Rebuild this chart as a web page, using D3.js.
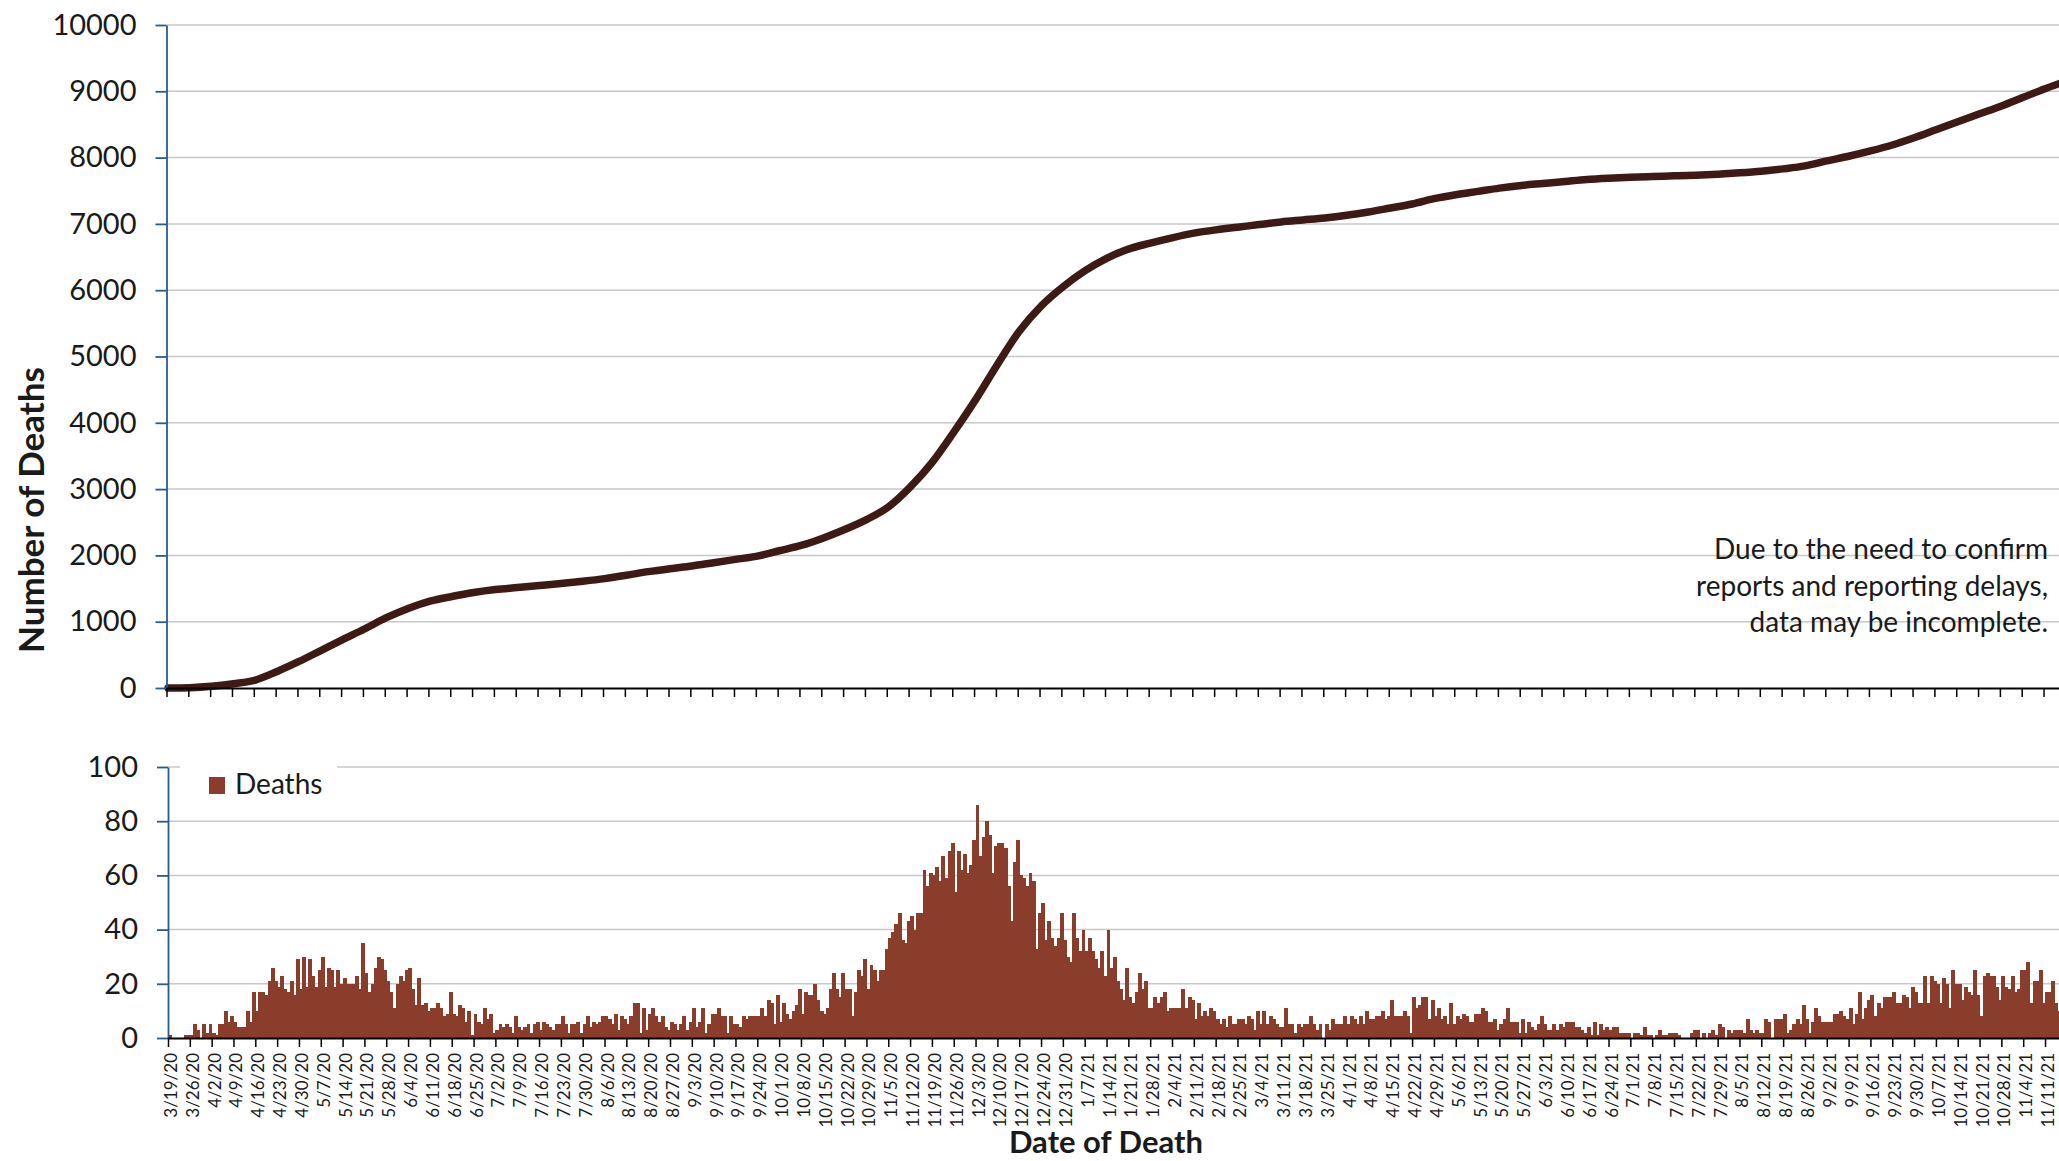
<!DOCTYPE html>
<html>
<head>
<meta charset="utf-8">
<script src="https://cdn.jsdelivr.net/npm/d3@7"></script>
<style>
  body { margin: 0; background: #fff; }
  text { font-family: Lato, "Open Sans", sans-serif; }
</style>
</head>
<body>
<div id="chart"></div>
<script>
// Daily deaths, one value per day starting 3/19/2020
const startDate = new Date(Date.UTC(2020, 2, 19));
const dailyDeaths = [
  1,0,0,0,0,1,1,1,5,3, 0,5,2,5,2,1,5,5,10,6, 8,6,4,4,4,10,6,17,10,17,
  17,16,21,26,21,19,23,18,17,21, 16,29,18,30,19,29,23,19,25,30, 19,26,25,19,25,20,22,20,20,20,
  23,18,35,24,17,20,26,30,29,25, 21,17,11,20,23,21,25,26,18,12, 22,12,13,10,11,11,13,11,8,9,
  17,9,8,12,11,6,10,1,9,6, 5,11,7,9,2,3,5,4,5,4, 2,8,4,3,4,5,2,5,6,3,
  6,5,4,3,5,5,8,5,2,5, 5,6,2,5,8,4,6,5,6,8, 8,7,5,9,3,8,7,5,8,13,
  13,2,11,3,9,11,8,6,8,4, 3,6,5,3,5,8,3,6,11,4, 6,11,2,5,9,9,11,8,8,2,
  8,5,5,4,8,7,8,8,8,8, 11,8,14,13,5,16,6,13,9,7, 10,12,18,9,17,16,16,20,14,10,
  9,11,18,24,18,15,24,18,18,8, 17,25,23,29,18,27,25,21,25,25, 33,37,39,42,46,36,35,43,45,40,
  46,46,62,56,61,60,63,58,67,59, 69,72,54,69,62,68,61,64,73,86, 67,74,80,75,61,71,72,72,70,56,
  43,65,73,60,59,56,61,58,33,46, 50,36,43,37,34,37,46,36,30,28, 46,37,32,40,32,37,32,29,26,32,
  23,40,26,30,21,18,14,26,15,13, 17,24,18,21,11,11,15,13,15,17, 10,11,11,11,11,18,11,15,14,7,
  13,8,10,8,11,10,7,5,7,4, 8,5,5,7,7,5,8,7,3,10, 5,10,5,8,7,5,4,4,11,5,
  5,2,5,4,5,5,8,5,3,5, 0,5,3,7,5,5,5,8,5,8, 7,5,8,5,10,7,7,8,8,10,
  7,8,14,8,8,8,10,8,2,15, 11,12,15,15,7,14,8,11,7,8, 5,13,5,8,7,9,8,6,6,9,
  9,11,10,6,6,7,3,5,7,11, 6,6,6,2,7,2,6,4,3,5, 8,5,3,3,5,3,5,4,6,6,
  6,4,4,3,2,4,1,6,1,5, 3,4,3,4,4,2,2,2,2,0, 2,2,1,4,1,1,0,1,3,1,
  1,2,2,2,1,0,0,0,2,3, 3,0,2,0,2,3,1,5,4,0, 3,2,3,3,3,2,7,3,2,3,
  2,2,7,6,0,7,7,7,9,2, 3,5,7,5,12,7,2,6,11,8, 6,6,6,6,9,9,10,8,7,11,
  5,9,17,7,11,14,16,8,13,11, 15,15,15,17,13,13,16,15,11,19, 17,13,13,23,13,23,21,20,13,22,
  20,11,25,20,20,14,19,17,16,25, 16,8,23,24,23,23,19,14,23,19, 18,23,17,18,25,25,28,13,21,21,
  25,13,17,17,21,13,10,10
];
// Cumulative deaths read at every weekly tick, last value = final day
const weeklyCumulative = [
  1,5,25,65,120,250,400,565,730,890,
  1060,1200,1310,1380,1440,1485,1515,1545,1575,1610,
  1650,1700,1755,1800,1840,1890,1940,1990,2070,2150,
  2260,2390,2540,2730,3030,3400,3860,4350,4880,5380,
  5760,6050,6290,6480,6620,6710,6790,6860,6910,6950,
  6990,7030,7060,7090,7130,7180,7240,7300,7380,7440,
  7490,7540,7580,7610,7640,7670,7690,7705,7715,7725,
  7735,7750,7770,7795,7830,7875,7950,8020,8100,8190,
  8300,8420,8540,8660,8780,8910,9040,9125
];
const topTicks = [0,1000,2000,3000,4000,5000,6000,7000,8000,9000,10000];
const bottomTicks = [0,20,40,60,80,100];
const noteLines = ["Due to the need to confirm", "reports and reporting delays,", "data may be incomplete."];

const width = 2059, height = 1161;
const dayW = 3.118;
const barColor = "#8B3D2B", lineColor = "#3D1B14", axisBlue = "#2A5B8C", gridColor = "#c8c8c8";

const dates = d3.utcDay.range(startDate, d3.utcDay.offset(startDate, dailyDeaths.length));
const endDate = d3.utcDay.offset(startDate, dailyDeaths.length);
const tickDates = dates.filter((d, i) => i % 7 === 0);
const fmt = d3.utcFormat("%-m/%-d/%y");

const svg = d3.select("#chart").append("svg")
  .attr("width", width).attr("height", height)
  .style("background", "#fff");

// Scales
const xTop = d3.scaleUtc().domain([startDate, endDate]).range([166.5, 166.5 + dates.length * dayW]);
const xBot = d3.scaleUtc().domain([startDate, endDate]).range([168, 168 + dates.length * dayW]);
const yTop = d3.scaleLinear().domain([0, 10000]).range([688, 25]);
const yBot = d3.scaleLinear().domain([0, 100]).range([1038, 767]);

// Gridlines
svg.append("g").selectAll("line")
  .data(topTicks.filter(d => d > 0)).enter().append("line")
  .attr("x1", xTop.range()[0]).attr("x2", width)
  .attr("y1", d => yTop(d)).attr("y2", d => yTop(d))
  .attr("stroke", gridColor).attr("stroke-width", 1.5);

svg.append("g").selectAll("line")
  .data(bottomTicks.filter(d => d > 0)).enter().append("line")
  .attr("x1", xBot.range()[0]).attr("x2", width)
  .attr("y1", d => yBot(d)).attr("y2", d => yBot(d))
  .attr("stroke", gridColor).attr("stroke-width", 1.5);

// Note text
svg.append("g").selectAll("text")
  .data(noteLines).enter().append("text")
  .attr("x", 2048)
  .attr("y", (d, i) => 559 + i * 36.5)
  .attr("text-anchor", "end")
  .attr("fill", "#1a1a1a")
  .style("font-size", "28px")
  .text(d => d);

// Daily bars
svg.append("g")
  .attr("shape-rendering", "crispEdges")
  .selectAll("rect")
  .data(dailyDeaths.map((v, i) => ({ date: dates[i], value: v })))
  .enter().append("rect")
  .attr("x", d => xBot(d.date))
  .attr("width", dayW + 0.8)
  .attr("y", d => yBot(d.value))
  .attr("height", d => yBot(0) - yBot(d.value))
  .attr("fill", barColor);

// Cumulative line
const linePoints = tickDates.map((d, k) => ({ date: d, value: weeklyCumulative[k] }));
linePoints.push({ date: dates[dates.length - 1], value: weeklyCumulative[weeklyCumulative.length - 1] });

svg.append("path")
  .datum(linePoints)
  .attr("fill", "none")
  .attr("stroke", lineColor)
  .attr("stroke-width", 7.5)
  .attr("stroke-linecap", "round")
  .attr("d", d3.line()
    .x(d => xTop(d.date) + dayW / 2)
    .y(d => yTop(d.value))
    .curve(d3.curveMonotoneX));

// Y axes
function styleYAxis(g) {
  g.select(".domain").attr("stroke", axisBlue).attr("stroke-width", 1.8);
  g.selectAll(".tick line").attr("stroke", axisBlue).attr("stroke-width", 1.8);
  g.selectAll(".tick text").attr("fill", "#1a1a1a").style("font-size", "29px");
}

svg.append("g")
  .attr("transform", `translate(${xTop.range()[0]},0)`)
  .call(d3.axisLeft(yTop).tickValues(topTicks).tickFormat(d3.format("d"))
    .tickSize(11).tickSizeOuter(0).tickPadding(19))
  .call(styleYAxis);

svg.append("g")
  .attr("transform", `translate(${xBot.range()[0]},0)`)
  .call(d3.axisLeft(yBot).tickValues(bottomTicks).tickFormat(d3.format("d"))
    .tickSize(11).tickSizeOuter(0).tickPadding(19))
  .call(styleYAxis);

// X axes
const topX = svg.append("g")
  .attr("transform", `translate(0,${yTop(0)})`)
  .call(d3.axisBottom(xTop).tickValues(tickDates).tickFormat("").tickSize(9).tickSizeOuter(0));
topX.select(".domain").attr("stroke", "#000").attr("stroke-width", 1.8);
topX.selectAll(".tick line").attr("stroke", "#000").attr("stroke-width", 1.5);

const botX = svg.append("g")
  .attr("transform", `translate(0,${yBot(0)})`)
  .call(d3.axisBottom(xBot).tickValues(tickDates).tickFormat(fmt).tickSize(9).tickSizeOuter(0));
botX.select(".domain").attr("stroke", "#000").attr("stroke-width", 1.8);
botX.selectAll(".tick line").attr("stroke", "#000").attr("stroke-width", 1.5);
botX.selectAll(".tick text")
  .attr("transform", "rotate(-90)")
  .attr("x", -15)
  .attr("y", dayW / 2 + 1)
  .attr("dy", "0.35em")
  .attr("text-anchor", "end")
  .attr("fill", "#1a1a1a")
  .style("font-size", "17px");

// Legend
const legend = svg.append("g");
legend.append("rect")
  .attr("x", 180).attr("y", 757).attr("width", 157).attr("height", 50)
  .attr("fill", "#fff");
legend.append("rect")
  .attr("x", 209).attr("y", 777).attr("width", 16).attr("height", 17)
  .attr("fill", barColor);
legend.append("text")
  .attr("x", 235).attr("y", 794)
  .attr("fill", "#1a1a1a")
  .style("font-size", "28px")
  .text("Deaths");

// Axis titles
svg.append("text")
  .attr("transform", `translate(31.5,510) rotate(-90)`)
  .attr("text-anchor", "middle")
  .attr("dy", "0.35em")
  .attr("fill", "#1a1a1a")
  .style("font-size", "35px")
  .style("font-weight", "bold")
  .text("Number of Deaths");

svg.append("text")
  .attr("x", 1106).attr("y", 1142)
  .attr("dy", "0.35em")
  .attr("text-anchor", "middle")
  .attr("fill", "#1a1a1a")
  .style("font-size", "31px")
  .style("font-weight", "bold")
  .text("Date of Death");
</script>
</body>
</html>
